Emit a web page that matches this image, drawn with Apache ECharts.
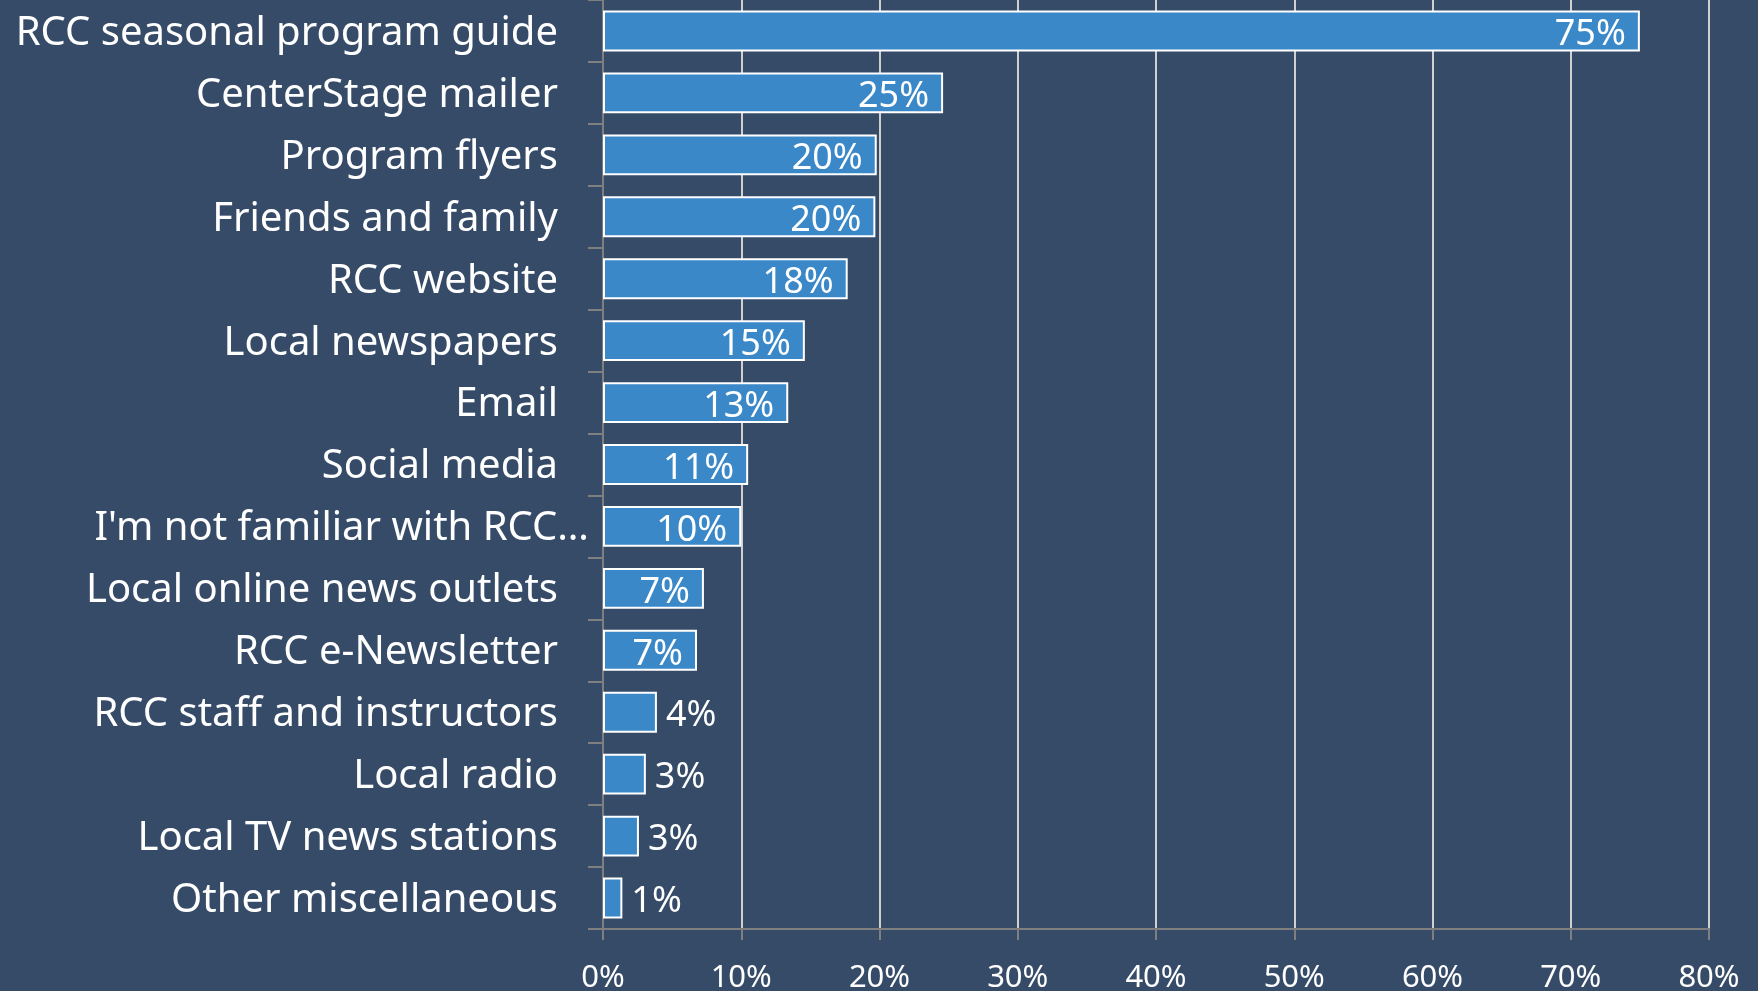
<!DOCTYPE html>
<html>
<head>
<meta charset="utf-8">
<script src="https://cdn.jsdelivr.net/npm/echarts@6/dist/echarts.min.js"></script>
<style>
html,body{margin:0;padding:0;background:#364B68;}
#chart{width:1758px;height:991px;}
</style>
</head>
<body>
<div id="chart"></div>
<script>
const categories = [
  "RCC seasonal program guide",
  "CenterStage mailer",
  "Program flyers",
  "Friends and family",
  "RCC website",
  "Local newspapers",
  "Email",
  "Social media",
  "I'm not familiar with RCC…",
  "Local online news outlets",
  "RCC e-Newsletter",
  "RCC staff and instructors",
  "Local radio",
  "Local TV news stations",
  "Other miscellaneous"
];
const values = [75.0, 24.6, 19.8, 19.7, 17.7, 14.6, 13.4, 10.5, 10.0, 7.3, 6.8, 3.9, 3.1, 2.6, 1.4];
const xTicks = [0, 10, 20, 30, 40, 50, 60, 70, 80];

const chart = echarts.init(document.getElementById('chart'));
const font = '"Noto Sans", "Open Sans", sans-serif';
chart.setOption({
  backgroundColor: '#364B68',
  animation: false,
  grid: {left: 603, right: 49, top: 0, bottom: 62, containLabel: false, outerBoundsMode: 'none'},
  xAxis: {
    type: 'value',
    min: xTicks[0], max: xTicks[xTicks.length - 1], interval: 10,
    axisLine: {show: true, lineStyle: {color: '#7f7f7f', width: 2}},
    axisTick: {show: true, length: 11, lineStyle: {color: '#7f7f7f', width: 2}},
    splitLine: {show: true, lineStyle: {color: '#d0d0d0', width: 2}},
    axisLabel: {color: '#ffffff', fontFamily: font, fontSize: 31, margin: 34, formatter: v => v + '%'}
  },
  yAxis: {
    type: 'category',
    inverse: true,
    data: categories,
    axisLine: {show: true, lineStyle: {color: '#7f7f7f', width: 2}},
    axisTick: {show: true, length: 15, lineStyle: {color: '#7f7f7f', width: 2}},
    axisLabel: {
      color: '#ffffff', fontFamily: font, fontSize: 40, margin: 45,
      formatter: v => v.endsWith('…') ? '{l|' + v + '}' : '{n|' + v + '}',
      rich: {
        l: {color: '#ffffff', fontFamily: font, fontSize: 40, padding: [5, -31, 0, 0]},
        n: {color: '#ffffff', fontFamily: font, fontSize: 40, padding: [5, 0, 0, 0]}
      }
    }
  },
  series: [{
    type: 'bar',
    data: values.map(v => ({
      value: v,
      label: v >= 5
        ? {position: 'insideRight', distance: 14}
        : {position: 'right', distance: 9}
    })),
    barWidth: '66%',
    itemStyle: {color: '#3A88C8', borderColor: '#ffffff', borderWidth: 2},
    label: {
      show: true, color: '#ffffff', fontFamily: font, fontSize: 36,
      offset: [0, 4],
      formatter: p => Math.round(p.value) + '%'
    }
  }]
});
</script>
</body>
</html>
